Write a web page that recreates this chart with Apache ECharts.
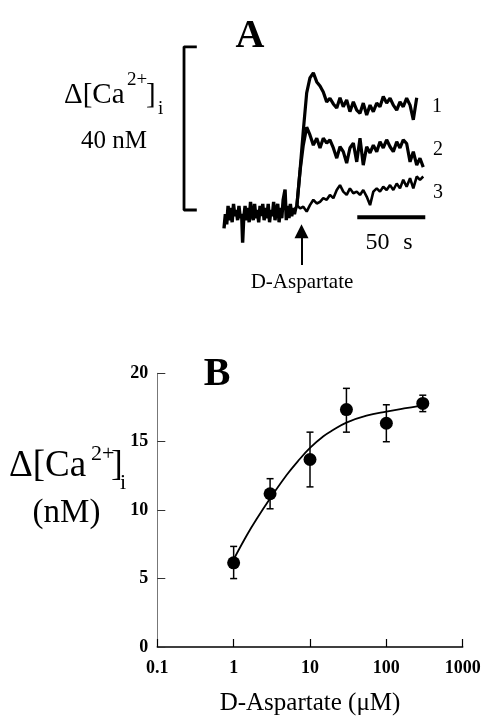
<!DOCTYPE html>
<html><head><meta charset="utf-8">
<script src="https://cdn.jsdelivr.net/npm/echarts/dist/echarts.min.js"></script>
<style>html,body{margin:0;padding:0;background:#fff}#c{width:485px;height:717px}</style>
</head><body><div id="c"></div>
<script>
// ---------- Panel A: [Ca2+]i traces (time in s, change in nM) ----------
const baseTime = [0,1,2,3,4,5,6,7,8,9,10,11,12,13,13.7,14.5,15.5,16.5,17.5,18.5,19.5,20.5,21.5,22.5,23.5,24.5,25.5,26.5,27.5,28.5,29.5,30.5,31.5,32.5,33.5,34.5,35.5,36.5,37.5,38.5,39.5,40.5,41.5,42.5,43.5,44.9,45.8,46.8,47.8,48.8,49.8,50.8,51.8,52.8,53.5];
const baseVal = [-4.5,-1,-3.5,1,-2.5,0.5,-3,1.5,-1.5,0,-2.5,1,-2,-1,-8,-2,1,-2.5,0.5,-3,2,-1,-2.5,1.5,-2,0,-3,1,-1.5,1.5,-2.5,0.5,-2,1.5,-3,0,-1.5,2,-2.5,0,1.5,-3,0.5,-2,2.5,5,-2.5,1,-2,1.5,-1.5,0.5,-1,0.5,0.8];
const traceTime = [53.5,56,58.3,60.8,63.2,65.7,68.2,70.6,73,75.5,77.9,80.4,82.9,85.3,87.7,90.2,92.6,95.1,97.6,100,102.4,104.9,107.4,109.8,112.3,114.7,117.1,119.6,122.1,124.5,127,129.4,131.8,134.3,136.8,139.2,141.7,144.1,146.5];
const trace1 = [0.8,10,19.4,28.7,32.4,33.6,31.4,30.4,28.9,26.5,27.4,26,25,27.5,25.3,27,24.1,26.5,24.5,23.7,26.2,23.3,25.7,24.1,26.2,25.3,27.8,26.2,27.4,25.7,24.5,26.5,25.3,27.4,25.7,22.1,27.5];
const trace2 = [0.7,9.8,15.9,20.3,18.4,15.9,17.6,15.2,17.6,16.4,17.2,15.2,12.7,15.5,14.3,11.5,15.2,16.4,11.8,17.6,11,15.5,14,15.9,14.3,16.7,15.2,17.2,15.5,14.3,16.7,15.2,17.2,16.3,11.8,14.3,11,12.7,10.5];
const trace3 = [1.2,0.4,0.8,-0.4,1.2,2.5,1.6,2,2.9,2.5,3.7,2.9,4.9,6.1,4.5,3.7,5.3,4.1,4.5,3.7,4.9,3.3,1.2,4.5,5.3,4.5,5.7,4.9,6.1,4.9,6.5,5.3,7.4,5.7,7.8,5.3,8.2,7.4,8.2];
const traceLabels = ['1','2','3'];
const scaleNM = 40;      // vertical scale bar
const scaleSec = 50;     // horizontal scale bar
const stimulusTime = 57; // D-Aspartate application

// ---------- Panel B: dose-response ----------
const conc   = [1, 3, 10, 30, 100, 300];
const meanCa = [6.15, 11.2, 13.7, 17.35, 16.35, 17.8];
const errHi  = [7.35, 12.3, 15.7, 18.9, 17.7, 18.4];
const errLo  = [5.0, 10.1, 11.7, 15.7, 15.0, 17.2];
const fitConc = [1, 1.5, 2, 3, 5, 7, 10, 15, 20, 30, 55, 100, 180, 300];
const fitCa   = [6.4, 8.2, 9.35, 10.85, 12.6, 13.6, 14.55, 15.4, 15.85, 16.4, 16.9, 17.2, 17.45, 17.65];

// ---------- layout constants ----------
const FONT = 'Liberation Serif';
const bracketT = -29.4, bracketTickT = -20;
const scaleBarStart = 98, scaleBarY = -1.8;

const zip = (a, b) => a.slice(0, Math.min(a.length, b.length)).map((v, i) => [v, b[i]]);

const chart = echarts.init(document.getElementById('c'), null, {renderer: 'canvas'});

const txt = (text, x, y, size, opts = {}) => ({
  type: 'text', x, y, silent: true,
  style: Object.assign({text, font: (opts.weight || 'normal') + ' ' + size + 'px ' + FONT,
    fill: '#000', textAlign: opts.align || 'left', textVerticalAlign: 'middle'})
});

const option = {
  animation: false,
  backgroundColor: '#fff',
  grid: [
    {left: 183.2, top: 26.4, width: 272, height: 265.2},
    {left: 157.3, top: 373.3, width: 305.4, height: 276.7}
  ],
  xAxis: [
    {gridIndex: 0, type: 'value', min: -30, max: 170, show: false},
    {gridIndex: 1, type: 'log', logBase: 10, min: 0.1, max: 1000,
     axisLine: {lineStyle: {color: '#000', width: 1.5}},
     axisTick: {inside: true, length: 8, lineStyle: {color: '#000', width: 1.2}},
     minorTick: {show: false}, splitLine: {show: false},
     axisLabel: {margin: 12, color: '#000', fontFamily: FONT, fontSize: 18, fontWeight: 'bold',
       formatter: v => String(+Number(v).toPrecision(3))},
     name: 'D-Aspartate (\u03bcM)', nameLocation: 'middle', nameGap: 44,
     nameTextStyle: {color: '#000', fontFamily: FONT, fontSize: 25}}
  ],
  yAxis: [
    {gridIndex: 0, type: 'value', min: -20, max: 45, show: false},
    {gridIndex: 1, type: 'value', min: 0, max: 20, interval: 5,
     axisLine: {show: true, lineStyle: {color: '#777', width: 1}},
     axisTick: {show: true, inside: true, length: 8, lineStyle: {color: '#333', width: 1}},
     splitLine: {show: false},
     axisLabel: {margin: 9, color: '#000', fontFamily: FONT, fontSize: 18, fontWeight: 'bold'}}
  ],
  series: [
    {type: 'line', xAxisIndex: 0, yAxisIndex: 0, data: zip(baseTime, baseVal), showSymbol: false,
     lineStyle: {color: '#000', width: 3.4}},
    {type: 'line', xAxisIndex: 0, yAxisIndex: 0, data: zip(traceTime, trace1), showSymbol: false,
     lineStyle: {color: '#000', width: 3.2}},
    {type: 'line', xAxisIndex: 0, yAxisIndex: 0, data: zip(traceTime, trace2), showSymbol: false,
     lineStyle: {color: '#000', width: 3.2}},
    {type: 'line', xAxisIndex: 0, yAxisIndex: 0, data: zip(traceTime, trace3), showSymbol: false,
     lineStyle: {color: '#000', width: 2.6}},
    // vertical scale bracket (40 nM)
    {type: 'line', xAxisIndex: 0, yAxisIndex: 0, showSymbol: false,
     data: [[bracketTickT, scaleNM], [bracketT, scaleNM], [bracketT, 0], [bracketTickT, 0]],
     lineStyle: {color: '#000', width: 2.8}},
    // horizontal scale bar (50 s)
    {type: 'line', xAxisIndex: 0, yAxisIndex: 0, showSymbol: false,
     data: [[scaleBarStart, scaleBarY], [scaleBarStart + scaleSec, scaleBarY]],
     lineStyle: {color: '#000', width: 4}},
    // stimulus arrow
    {type: 'lines', coordinateSystem: 'cartesian2d', xAxisIndex: 0, yAxisIndex: 0,
     symbol: ['none', 'triangle'], symbolSize: [1, 14],
     data: [{coords: [[stimulusTime, -13.5], [stimulusTime, -5.2]]}],
     lineStyle: {color: '#000', width: 2, opacity: 1}},
    // Panel B: fitted curve
    {type: 'line', xAxisIndex: 1, yAxisIndex: 1, data: zip(fitConc, fitCa), smooth: 0.4,
     showSymbol: false, lineStyle: {color: '#000', width: 1.8}, z: 2},
    // error bars
    {type: 'custom', xAxisIndex: 1, yAxisIndex: 1, z: 3,
     data: conc.map((c, i) => [c, errLo[i], errHi[i]]),
     encode: {x: 0, y: [1, 2]},
     renderItem: (params, api) => {
       const lo = api.coord([api.value(0), api.value(1)]);
       const hi = api.coord([api.value(0), api.value(2)]);
       const w = 3.5, st = {stroke: '#000', lineWidth: 1.5};
       return {type: 'group', children: [
         {type: 'line', shape: {x1: hi[0], y1: hi[1], x2: lo[0], y2: lo[1]}, style: st},
         {type: 'line', shape: {x1: hi[0] - w, y1: hi[1], x2: hi[0] + w, y2: hi[1]}, style: st},
         {type: 'line', shape: {x1: lo[0] - w, y1: lo[1], x2: lo[0] + w, y2: lo[1]}, style: st}
       ]};
     }},
    // means
    {type: 'scatter', xAxisIndex: 1, yAxisIndex: 1, data: zip(conc, meanCa),
     symbol: 'circle', symbolSize: 13, itemStyle: {color: '#000', opacity: 1}, z: 4}
  ],
  graphic: [
    // Panel A texts
    txt('A', 250, 37, 40, {align: 'center', weight: 'bold'}),
    txt('\u0394[Ca', 64, 95, 29),
    txt('2+', 127, 80, 19),
    txt(']', 146, 95, 29),
    txt('i', 158, 109, 19),
    txt('40 nM', 114, 141, 25, {align: 'center'}),
    txt(traceLabels[0], 437, 107, 20, {align: 'center'}),
    txt(traceLabels[1], 438, 150, 20, {align: 'center'}),
    txt(traceLabels[2], 438, 193, 20, {align: 'center'}),
    txt('50', 377.5, 243, 24, {align: 'center'}),
    txt('s', 408, 243, 24, {align: 'center'}),
    txt('D-Aspartate', 302, 282, 21, {align: 'center'}),
    // Panel B texts
    txt('B', 217, 375, 40, {align: 'center', weight: 'bold'}),
    txt('\u0394[Ca', 9, 466, 37),
    txt('2+', 91, 454, 22),
    txt(']', 111, 466, 35),
    txt('i', 120, 483, 22),
    txt('(nM)', 66.5, 513, 33, {align: 'center'})
  ]
};
chart.setOption(option);
</script></body></html>
